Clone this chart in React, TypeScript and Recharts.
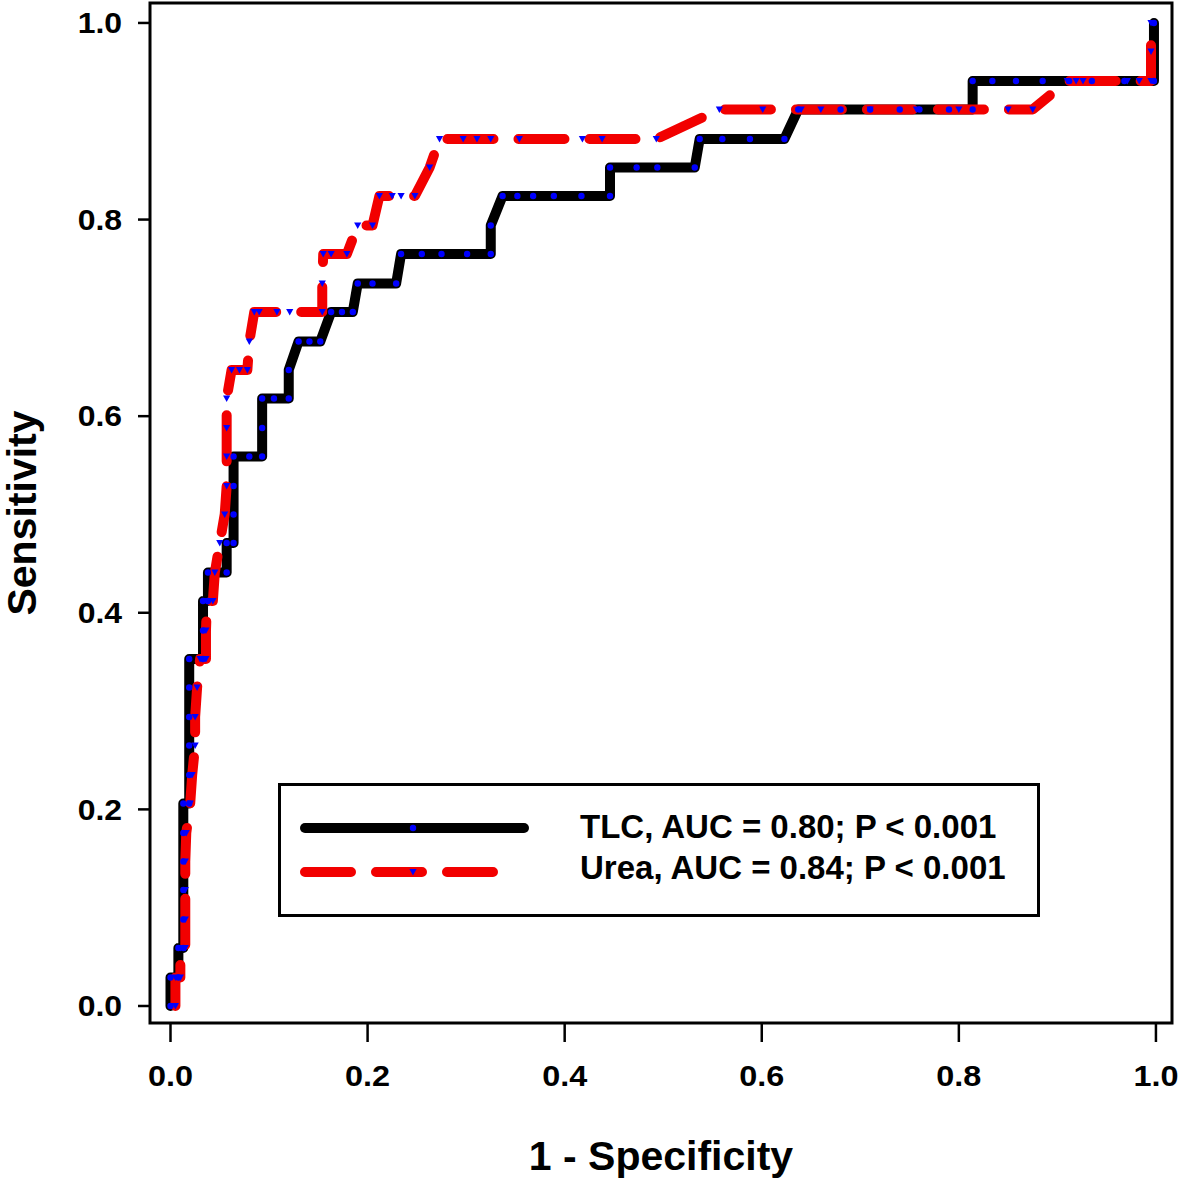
import { LineChart, Line, XAxis, YAxis, ReferenceArea } from "recharts";

// TLC curve (1 - specificity, sensitivity)
const tlcFpr = [
  0, 0, 0.008, 0.008, 0.013, 0.013, 0.013, 0.013, 0.013, 0.013, 0.019, 0.019, 0.019, 0.019, 0.019, 0.019,
  0.033, 0.033, 0.033, 0.038, 0.038, 0.057, 0.057, 0.064, 0.064, 0.064, 0.064, 0.08, 0.093, 0.093, 0.093,
  0.105, 0.12, 0.12, 0.13, 0.141, 0.152, 0.163, 0.174, 0.185, 0.19, 0.205, 0.229, 0.234, 0.255, 0.275,
  0.301, 0.325, 0.325, 0.337, 0.352, 0.368, 0.389, 0.417, 0.446, 0.446, 0.473, 0.494, 0.532, 0.537, 0.56,
  0.588, 0.623, 0.637, 0.68, 0.71, 0.74, 0.76, 0.79, 0.814, 0.814, 0.834, 0.858, 0.885, 0.912, 0.935,
  0.968, 0.998, 0.998,
];
const tlcSens = [
  0, 0.029, 0.029, 0.059, 0.059, 0.088, 0.118, 0.147, 0.176, 0.206, 0.206, 0.235, 0.265, 0.294, 0.324, 0.353,
  0.353, 0.382, 0.412, 0.412, 0.441, 0.441, 0.471, 0.471, 0.5, 0.529, 0.559, 0.559, 0.559, 0.588, 0.618,
  0.618, 0.618, 0.647, 0.676, 0.676, 0.676, 0.706, 0.706, 0.706, 0.735, 0.735, 0.735, 0.765, 0.765, 0.765,
  0.765, 0.765, 0.794, 0.824, 0.824, 0.824, 0.824, 0.824, 0.824, 0.853, 0.853, 0.853, 0.853, 0.882, 0.882,
  0.882, 0.882, 0.912, 0.912, 0.912, 0.912, 0.912, 0.912, 0.912, 0.941, 0.941, 0.941, 0.941, 0.941, 0.941,
  0.941, 0.941, 1.0,
];

// Urea curve
const ureaFpr = [
  0.005, 0.005, 0.01, 0.01, 0.015, 0.015, 0.015, 0.015, 0.016, 0.02, 0.022, 0.025, 0.025, 0.027, 0.03,
  0.036, 0.036, 0.037, 0.043, 0.045, 0.05, 0.055, 0.057, 0.057, 0.057, 0.057, 0.062, 0.07, 0.078, 0.08,
  0.085, 0.09, 0.108, 0.121, 0.154, 0.154, 0.155, 0.163, 0.179, 0.19, 0.205, 0.212, 0.225, 0.234, 0.248,
  0.263, 0.273, 0.297, 0.311, 0.325, 0.354, 0.418, 0.438, 0.493, 0.557, 0.601, 0.64, 0.66, 0.71, 0.757,
  0.8, 0.85, 0.875, 0.91, 0.919, 0.926, 0.971, 0.983, 0.995, 0.995, 0.995,
];
const ureaSens = [
  0, 0.029, 0.029, 0.059, 0.059, 0.088, 0.118, 0.147, 0.176, 0.206, 0.235, 0.265, 0.294, 0.324, 0.353,
  0.353, 0.382, 0.412, 0.412, 0.441, 0.471, 0.5, 0.529, 0.559, 0.588, 0.618, 0.647, 0.647, 0.647, 0.676,
  0.706, 0.706, 0.706, 0.706, 0.706, 0.735, 0.765, 0.765, 0.765, 0.794, 0.794, 0.824, 0.824, 0.824, 0.824,
  0.853, 0.882, 0.882, 0.882, 0.882, 0.882, 0.882, 0.882, 0.882, 0.912, 0.912, 0.912, 0.912, 0.912, 0.912,
  0.912, 0.912, 0.912, 0.941, 0.941, 0.941, 0.941, 0.941, 0.941, 0.971, 1.0,
];

const xTicks = [0, 0.2, 0.4, 0.6, 0.8, 1.0];
const yTicks = [0, 0.2, 0.4, 0.6, 0.8, 1.0];

const tlcLabel = "TLC, AUC = 0.80; P < 0.001";
const ureaLabel = "Urea, AUC = 0.84; P < 0.001";

const FONT = "'Liberation Sans', Arial, sans-serif";
const BLUE = "#0000ff";
const RED = "#f20000";

// axis limits, a bit beyond 0..1 like the original frame
const X_MIN = -0.0208;
const X_MAX = 1.0163;
const Y_MIN = -0.0173;
const Y_MAX = 1.0203;

const tlcData = tlcFpr.map((x, i) => ({ x, y: tlcSens[i] }));
const ureaData = ureaFpr.map((x, i) => ({ x, y: ureaSens[i] }));

const CircleDot = (p: any) => {
  if (p.cx == null || p.cy == null) return <g key={`c${p.index}`} />;
  return <circle key={`c${p.index}`} cx={p.cx} cy={p.cy} r={3.2} fill={BLUE} />;
};

const TriDot = (p: any) => {
  if (p.cx == null || p.cy == null) return <g key={`t${p.index}`} />;
  const { cx, cy } = p;
  return (
    <path
      key={`t${p.index}`}
      d={`M${cx - 3.6},${cy - 3} L${cx + 3.6},${cy - 3} L${cx},${cy + 3.6} Z`}
      fill={BLUE}
    />
  );
};

// the original tick labels are a bit wider than Arial, so stretch them a little
const XTick = (p: any) => (
  <g transform={`translate(${p.x},${p.y})`}>
    <text
      transform="scale(1.08,1)"
      textAnchor="middle"
      dy="0.71em"
      fontFamily={FONT}
      fontWeight={700}
      fontSize={30}
      fill="#000"
    >
      {Number(p.payload.value).toFixed(1)}
    </text>
  </g>
);

const YTick = (p: any) => (
  <g transform={`translate(${p.x},${p.y})`}>
    <text
      transform="scale(1.1,1)"
      textAnchor="end"
      dy="0.355em"
      fontFamily={FONT}
      fontWeight={700}
      fontSize={29}
      fill="#000"
    >
      {Number(p.payload.value).toFixed(1)}
    </text>
  </g>
);

const App = () => {
  return (
    <div style={{ position: "absolute", left: 0, top: 0, width: 1180, height: 1182, background: "#fff" }}>
      <LineChart width={1180} height={1182} margin={{ top: 3, right: 8, bottom: 0, left: 0 }}>
        <XAxis
          type="number"
          dataKey="x"
          domain={[X_MIN, X_MAX]}
          allowDataOverflow
          ticks={xTicks}
          height={159}
          axisLine={false}
          tickSize={19}
          tickMargin={23}
          tickLine={{ stroke: "#000", strokeWidth: 2.5 }}
          tick={XTick}
          label={{
            content: () => (
              <text x={661} y={1170} textAnchor="middle" fontFamily={FONT} fontWeight={700} fontSize={41} fill="#000">
                1 - Specificity
              </text>
            ),
          }}
        />
        <YAxis
          type="number"
          dataKey="y"
          domain={[Y_MIN, Y_MAX]}
          allowDataOverflow
          ticks={yTicks}
          width={150}
          axisLine={false}
          tickSize={12}
          tickMargin={16}
          tickLine={{ stroke: "#000", strokeWidth: 2.5 }}
          tick={YTick}
          label={{
            content: () => (
              <text
                x={36}
                y={513}
                transform="rotate(-90 36 513)"
                textAnchor="middle"
                fontFamily={FONT}
                fontWeight={700}
                fontSize={41}
                fill="#000"
              >
                Sensitivity
              </text>
            ),
          }}
        />
        <ReferenceArea
          x1={X_MIN}
          x2={X_MAX}
          y1={Y_MIN}
          y2={Y_MAX}
          fill="none"
          fillOpacity={0}
          stroke="#000"
          strokeWidth={3}
          ifOverflow="visible"
        />
        <Line
          data={tlcData}
          dataKey="y"
          type="linear"
          stroke="#000"
          strokeWidth={10}
          strokeLinecap="round"
          strokeLinejoin="round"
          dot={CircleDot}
          activeDot={false}
          isAnimationActive={false}
        />
        <Line
          data={ureaData}
          dataKey="y"
          type="linear"
          stroke={RED}
          strokeWidth={10}
          strokeLinecap="round"
          strokeLinejoin="round"
          strokeDasharray="46 25"
          dot={TriDot}
          activeDot={false}
          isAnimationActive={false}
        />
      </LineChart>

      {/* legend */}
      <div
        style={{
          position: "absolute",
          left: 278,
          top: 783,
          width: 762,
          height: 134,
          boxSizing: "border-box",
          border: "3px solid #000",
          background: "#fff",
        }}
      />
      <svg style={{ position: "absolute", left: 0, top: 0 }} width={1180} height={1182} pointerEvents="none">
        <line x1={305} y1={828} x2={524} y2={828} stroke="#000" strokeWidth={10} strokeLinecap="round" />
        <circle cx={413} cy={828} r={3.2} fill={BLUE} />
        <line
          x1={305}
          y1={872}
          x2={493}
          y2={872}
          stroke={RED}
          strokeWidth={10}
          strokeLinecap="round"
          strokeDasharray="46 25"
        />
        <path d="M409.4,869 L416.6,869 L413,875.6 Z" fill={BLUE} />
      </svg>
      {[tlcLabel, ureaLabel].map((t, i) => (
        <div
          key={t}
          style={{
            position: "absolute",
            left: 580,
            top: 810 + i * 41,
            fontFamily: FONT,
            fontWeight: 700,
            fontSize: 33,
            lineHeight: "33px",
            whiteSpace: "nowrap",
            color: "#000",
          }}
        >
          {t}
        </div>
      ))}
    </div>
  );
};

export default App;
